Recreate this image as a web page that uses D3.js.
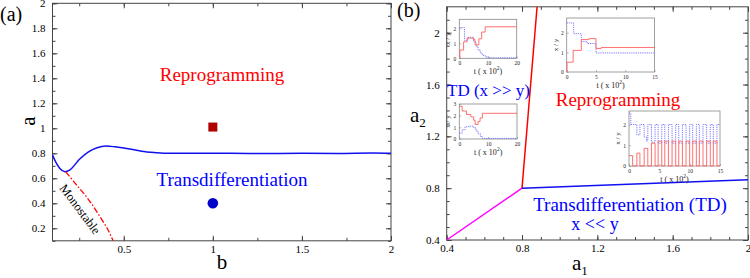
<!DOCTYPE html>
<html><head><meta charset="utf-8">
<script src="https://cdn.jsdelivr.net/npm/d3@7"></script>
<style>
html,body{margin:0;padding:0;background:#fff;}
svg{display:block;}
svg text{font-family:"Liberation Serif","Times New Roman",serif;}
</style></head>
<body><svg id="c" width="750" height="278"></svg>
<script>
// ---------- Panel (a) data ----------
const boundaryB = [0.1,0.12,0.14,0.17,0.2,0.25,0.3,0.35,0.4,0.45,0.5,0.55,0.6,0.68,0.75,0.9,1.1,1.3,1.5,1.7,1.9,2.0];
const boundaryA = [0.786,0.725,0.68,0.653,0.67,0.75,0.81,0.845,0.858,0.852,0.842,0.83,0.816,0.805,0.8,0.8,0.8,0.798,0.8,0.799,0.802,0.8];
const monoB = [0.174,0.23,0.29,0.35,0.412,0.44];
const monoA = [0.653,0.555,0.453,0.33,0.186,0.1];
const squarePt = [1.0, 1.01];
const circlePt = [1.0, 0.40];
const aXTicks = [0.5,1,1.5,2];
const aXMinor = [0.25,0.5,0.75,1,1.25,1.5,1.75,2];
const aYTicks = [0.2,0.4,0.6,0.8,1,1.2,1.4,1.6,1.8,2];
const aYMinor = [0.1,0.2,0.3,0.4,0.5,0.6,0.7,0.8,0.9,1,1.1,1.2,1.3,1.4,1.5,1.6,1.7,1.8,1.9,2];

// ---------- Panel (b) data ----------
const redLineB = [[0.8,0.8],[0.88,2.2]];
const blueLineB = [[0.8,0.8],[2.0,0.865]];
const magentaLineB = [[0.4,0.4],[0.8,0.8]];
const bTicks = [0.4,0.8,1.2,1.6,2];
const bMinor = [0.4,0.5,0.6,0.7,0.8,0.9,1,1.1,1.2,1.3,1.4,1.5,1.6,1.7,1.8,1.9,2];
const bYMinor = [0.4,0.5,0.6,0.7,0.8,0.9,1,1.1,1.2,1.3,1.4,1.5,1.6,1.7,1.8,1.9,2,2.1];

// ---------- Inset data (t, value) ----------
const in1Red = [[0,0],[0.2,0.55],[1.5,1.1],[2.7,1.35],[5,1.25],[5.5,0.9],[6.8,1.3],[7.8,1.75],[9,2.1],[20,2.1]];
const in1Blue = [[0,2.05],[1.8,1.2],[3,1.4],[5,1.1],[5.8,0.8],[6.5,0.55],[7.3,0.35],[8,0.2],[9,0.1],[10,0.03],[20,0.03]];
const in2Red = [[0,2.8],[1,2.4],[2.5,2.1],[4,1.9],[5,1.6],[5.5,1.25],[6.5,1.5],[7.2,1.8],[8,2.2],[20,2.2]];
const in2Blue = [[0,0.5],[1,0.8],[2,1.05],[3.5,1.1],[5,0.95],[5.8,0.7],[6.5,0.45],[7.3,0.2],[8,0.05],[20,0.03]];
const in3Red = [[0,0],[0.05,0.5],[1.1,1.1],[2.5,1.65],[3.8,1.7],[5,1.2],[5.9,1.25],[15,1.25]];
const in3Blue = [[0,2.5],[1.2,1.95],[2.5,1.55],[3.5,1.45],[5,0.97],[15,0.97]];
const in4Red = [[0,0.5],[0.6,0],[1.3,0.62],[1.8,0],[2.5,0.85],[3.1,0],[3.7,1.1],[4.3,0],[4.8,1.2],[5.4,0],[5.9,1.2],[6.5,0],[7.1,1.2],[7.7,0],[8.2,1.2],[8.8,0],[9.4,1.2],[10,0],[10.5,1.2],[11.1,0],[11.6,1.2],[12.2,0],[12.8,1.2],[13.4,0],[13.9,1.2],[14.5,0],[15,0]];
const in4Blue = [[0,2.55],[0.3,2.0],[1.3,1.5],[1.8,2.0],[2.5,1.4],[2.9,1.2],[3.1,2.0],[3.7,1.15],[4.3,2.0],[4.8,1.1],[5.4,2.0],[5.9,1.1],[6.5,2.0],[7.1,1.1],[7.7,2.0],[8.2,1.1],[8.8,2.0],[9.4,1.1],[10,2.0],[10.5,1.1],[11.1,2.0],[11.6,1.1],[12.2,2.0],[12.8,1.1],[13.4,2.0],[13.9,1.1],[14.5,2.0],[15,2.0]];
const in20Ticks = [0,10,20];
const in15Ticks = [0,5,10,15];
const inY2 = [0,1,2];
const inY3 = [0,1,2,3];

const svg = d3.select("#c");
const frameColor = "#444";
const SERIF = "Liberation Serif, Times New Roman, serif";

function frameAxes(g, x, y, xMaj, xMin, yMaj, yMin, fmtX, fmtY, fs) {
  const [x0,x1] = x.range(), [y0,y1] = y.range();
  const style = sel => { sel.attr("font-family",SERIF); sel.select(".domain").remove(); sel.selectAll("line").attr("stroke",frameColor);
    sel.selectAll("text").attr("font-size",fs).attr("fill","#000").attr("font-family",SERIF); };
  g.append("g").attr("transform",`translate(0,${y0})`).call(d3.axisBottom(x).tickValues(xMaj).tickSize(-5).tickPadding(4).tickFormat(fmtX)).call(style);
  g.append("g").attr("transform",`translate(0,${y0})`).call(d3.axisBottom(x).tickValues(xMin).tickSize(-3).tickFormat("")).call(style);
  g.append("g").attr("transform",`translate(0,${y1})`).call(d3.axisTop(x).tickValues(xMin).tickSize(-3).tickFormat("")).call(style);
  g.append("g").attr("transform",`translate(0,${y1})`).call(d3.axisTop(x).tickValues(xMaj).tickSize(-5).tickFormat("")).call(style);
  g.append("g").attr("transform",`translate(${x0},0)`).call(d3.axisLeft(y).tickValues(yMaj).tickSize(-5).tickPadding(7).tickFormat(fmtY)).call(style);
  g.append("g").attr("transform",`translate(${x0},0)`).call(d3.axisLeft(y).tickValues(yMin).tickSize(-3).tickFormat("")).call(style);
  g.append("g").attr("transform",`translate(${x1},0)`).call(d3.axisRight(y).tickValues(yMin).tickSize(-3).tickFormat("")).call(style);
  g.append("g").attr("transform",`translate(${x1},0)`).call(d3.axisRight(y).tickValues(yMaj).tickSize(-5).tickFormat("")).call(style);
  g.append("rect").attr("x",x0).attr("y",y1).attr("width",x1-x0).attr("height",y0-y1)
    .attr("fill","none").attr("stroke",frameColor).attr("stroke-width",1);
}

// ================= Panel (a) =================
const xa = d3.scaleLinear().domain([0.1,2]).range([52.5,391]);
const ya = d3.scaleLinear().domain([0.1,2]).range([240.8,3.3]);
const ga = svg.append("g");
frameAxes(ga, xa, ya, aXTicks, aXMinor, aYTicks, aYMinor, d3.format("~g"), d3.format("~g"), 11);

const lineA = d3.line().x(d=>xa(d[0])).y(d=>ya(d[1])).curve(d3.curveMonotoneX);
ga.append("path").datum(boundaryB.map((b,i)=>[b,boundaryA[i]])).attr("d",lineA)
  .attr("fill","none").attr("stroke","#1010f0").attr("stroke-width",1.5);
ga.append("path").datum(monoB.map((b,i)=>[b,monoA[i]]))
  .attr("d",d3.line().x(d=>xa(d[0])).y(d=>ya(d[1])).curve(d3.curveCatmullRom))
  .attr("fill","none").attr("stroke","#ff0000").attr("stroke-width",1.3).attr("stroke-dasharray","6,2,1.5,2");
ga.append("rect").attr("x",xa(squarePt[0])-4.5).attr("y",ya(squarePt[1])-4.5).attr("width",9).attr("height",9).attr("fill","#b00000");
ga.append("circle").attr("cx",xa(circlePt[0])).attr("cy",ya(circlePt[1])).attr("r",5.3).attr("fill","#0000c8");

ga.append("text").attr("x",222).attr("y",81).attr("text-anchor","middle").attr("font-size",19).attr("fill","#ff0000").text("Reprogramming");
ga.append("text").attr("x",232).attr("y",186).attr("text-anchor","middle").attr("font-size",19).attr("fill","#0000ff").text("Transdifferentiation");
ga.append("text").attr("transform","translate(79,210) rotate(53)").attr("text-anchor","middle").attr("dominant-baseline","middle")
  .attr("font-size",12.5).attr("fill","#000").text("Monostable");
ga.append("text").attr("x",222).attr("y",269).attr("text-anchor","middle").attr("font-size",21).text("b");
ga.append("text").attr("transform","translate(35,121) rotate(-90)").attr("text-anchor","middle").attr("font-size",21).text("a");
ga.append("text").attr("x",0).attr("y",21).attr("font-size",20).text("(a)");

// ================= Panel (b) =================
const xb = d3.scaleLinear().domain([0.4,2]).range([446.7,748]);
const yb = d3.scaleLinear().domain([0.4,2.2]).range([240,6.8]);
const gb = svg.append("g");
frameAxes(gb, xb, yb, bTicks, bMinor, bTicks, bYMinor, d3.format("~g"), d3.format("~g"), 11);
const lineB = d3.line().x(d=>xb(d[0])).y(d=>yb(d[1]));
gb.append("path").datum(magentaLineB).attr("d",lineB).attr("stroke","#ff00ff").attr("stroke-width",1.5).attr("fill","none");
gb.append("path").datum(redLineB).attr("d",lineB).attr("stroke","#ff0000").attr("stroke-width",1.5).attr("fill","none");
gb.append("path").datum(blueLineB).attr("d",lineB).attr("stroke","#1010f0").attr("stroke-width",1.5).attr("fill","none");

gb.append("text").attr("x",447).attr("y",96).attr("font-size",17).attr("fill","#0000ff").text("TD (x >> y)");
gb.append("text").attr("x",618).attr("y",106).attr("text-anchor","middle").attr("font-size",19).attr("fill","#ff0000").text("Reprogramming");
gb.append("text").attr("x",630).attr("y",211).attr("text-anchor","middle").attr("font-size",19).attr("fill","#0000ff").text("Transdifferentiation (TD)");
gb.append("text").attr("x",595).attr("y",230).attr("text-anchor","middle").attr("font-size",18).attr("fill","#0000ff").text("x << y");
const a1 = gb.append("text").attr("x",572).attr("y",270).attr("font-size",21);
a1.append("tspan").text("a");
a1.append("tspan").attr("font-size",13).attr("dy",5).text("1");
const a2 = gb.append("text").attr("x",410).attr("y",122).attr("font-size",21);
a2.append("tspan").text("a");
a2.append("tspan").attr("font-size",13).attr("dy",5).text("2");
gb.append("text").attr("x",397).attr("y",17).attr("font-size",20).text("(b)");

// ================= Insets =================
function inset(box, xDom, yDom, xt, yt, red, blue) {
  const x = d3.scaleLinear().domain(xDom).range([box[0],box[2]]);
  const y = d3.scaleLinear().domain(yDom).range([box[3],box[1]]);
  const g = svg.append("g");
  g.append("rect").attr("x",box[0]).attr("y",box[1]).attr("width",box[2]-box[0]).attr("height",box[3]-box[1])
    .attr("fill","#fff").attr("stroke","#888").attr("stroke-width",0.8);
  const st = sel => { sel.attr("font-family",SERIF); sel.select(".domain").remove(); sel.selectAll("line").attr("stroke","#888").attr("stroke-width",0.6);
    sel.selectAll("text").attr("font-size",5.5).attr("fill","#222").attr("font-family",SERIF); };
  g.append("g").attr("transform",`translate(0,${box[3]})`).call(d3.axisBottom(x).tickValues(xt).tickSize(-2).tickPadding(3).tickFormat(d3.format("~g"))).call(st);
  g.append("g").attr("transform",`translate(${box[0]},0)`).call(d3.axisLeft(y).tickValues(yt).tickSize(-2).tickPadding(3).tickFormat(d3.format("~g"))).call(st);
  const ln = d3.line().x(d=>x(d[0])).y(d=>y(d[1])).curve(d3.curveStepAfter);
  g.append("path").datum(blue).attr("d",ln).attr("fill","none").attr("stroke","#6a6aff").attr("stroke-width",0.9).attr("stroke-dasharray","1.2,1");
  g.append("path").datum(red).attr("d",ln).attr("fill","none").attr("stroke","#ff6060").attr("stroke-width",0.9);
  const cx = (box[0]+box[2])/2;
  const t = g.append("text").attr("x",cx).attr("y",box[3]+16).attr("text-anchor","middle").attr("font-size",8).attr("fill","#222");
  t.append("tspan").text("t ( x 10");
  t.append("tspan").attr("font-size",5.5).attr("dy",-4).text("2");
  t.append("tspan").attr("dy",4).text(")");
  g.append("text").attr("transform",`translate(${box[0]-9},${(box[1]+box[3])/2}) rotate(-90)`).attr("text-anchor","middle")
    .attr("font-size",7).attr("fill","#222").text("x / y");
}
inset([459.3,19.3,516.7,58.3],[0,20],[0,2.6],in20Ticks,inY2,in1Red,in1Blue);
inset([459.3,104,517,139],[0,20],[0,3],in20Ticks,inY3,in2Red,in2Blue);
inset([566.7,18,654.5,72],[0,15],[0,2.75],in15Ticks,inY2,in3Red,in3Blue);
inset([629,111,720,166],[0,15],[0,2.65],in15Ticks,inY2,in4Red,in4Blue);
</script></body></html>
